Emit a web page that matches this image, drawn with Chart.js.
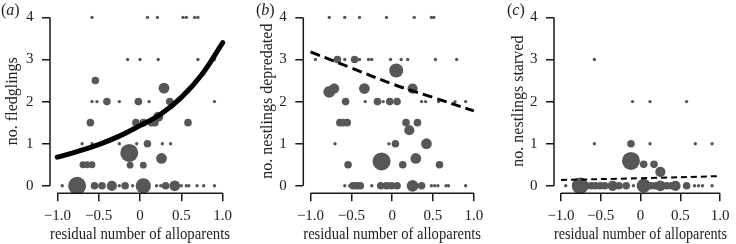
<!DOCTYPE html>
<html>
<head>
<meta charset="utf-8">
<script src="https://cdn.jsdelivr.net/npm/chart.js@4.4.1/dist/chart.umd.min.js"></script>
<style>
  body { margin: 0; background: #fff; }
  #wrap { position: relative; width: 736px; height: 244px; overflow: hidden; }
  .panel { position: absolute; top: 0; height: 244px; }
  .tag { position: absolute; top: 2px; font: 16px "Liberation Serif", "DejaVu Serif", serif; color: #222; line-height: 1; }
</style>
</head>
<body>
<div id="wrap">
  <div class="panel" style="left:0;width:245px"><canvas id="chart-a"></canvas></div>
  <div class="panel" style="left:245px;width:245px"><canvas id="chart-b"></canvas></div>
  <div class="panel" style="left:490px;width:246px"><canvas id="chart-c"></canvas></div>
  <span class="tag" style="left:1px">(<i>a</i>)</span>
  <span class="tag" style="left:256px">(<i>b</i>)</span>
  <span class="tag" style="left:507px">(<i>c</i>)</span>
</div>
<script>
const X_TICKS = [-1, -0.5, 0, 0.5, 1];
const Y_TICKS = [0, 1, 2, 3, 4];
const X_TITLE = "residual number of alloparents";

// (a) fledglings: x = residual alloparents, y = count, n = nests at that spot
const FLEDGE_X = [-0.58, 0.09, 0.21, 0.52, 0.56, 0.66, 0.70,
  -0.15, 0.00, 0.22, 0.70, 0.90,
  -0.54, 0.29,
  -0.58, -0.52, -0.40, -0.25, -0.02, 0.11, 0.36, 0.90,
  -0.60, -0.05, 0.04, 0.14, 0.18, 0.22, 0.58,
  -0.70, -0.58, -0.25, -0.04, 0.09, 0.27, 0.37,
  -0.13, 0.26, -0.12, 0.04,
  -0.69, -0.64, -0.58,
  -0.94, -0.76, -0.55, -0.46, -0.34, -0.25, -0.18, -0.09, 0.04, 0.20, 0.25, 0.31, 0.42, 0.50, 0.56, 0.59, 0.69, 0.77, 0.90];
const FLEDGE_Y = [4, 4, 4, 4, 4, 4, 4,
  3, 3, 3, 3, 3,
  2.5, 2.32,
  2, 2, 2, 2, 2, 2, 2, 2,
  1.5, 1.5, 1.5, 1.5, 1.5, 1.64, 1.5,
  1, 1, 1, 1, 1, 1, 1,
  0.78, 0.65, 0.49, 0.49,
  0.5, 0.5, 0.5,
  0, 0, 0, 0, 0, 0, 0, 0, 0, 0, 0, 0, 0, 0, 0, 0, 0, 0, 0];
const FLEDGE_N = [1, 1, 1, 1, 1, 1, 1,
  1, 1, 1, 1, 1,
  5, 10,
  1, 1, 5, 1, 5, 1, 5, 1,
  5, 5, 5, 5, 5, 9, 5,
  1, 1, 1, 1, 5, 1, 1,
  28, 10, 4, 4,
  4, 4, 4,
  1, 28, 5, 5, 9, 1, 5, 1, 20, 1, 1, 5, 10, 1, 1, 1, 1, 1, 1];
const FLEDGE_FIT_X = [-1, -0.75, -0.5, -0.25, 0, 0.25, 0.5, 0.75, 1];
const FLEDGE_FIT_Y = [0.68, 0.82, 0.98, 1.18, 1.43, 1.70, 2.10, 2.65, 3.40];

// (b) nestlings depredated
const DEPRED_X = [-0.77, -0.58, -0.40, -0.07, 0.27, 0.48, 0.51,
  -0.94, -0.67, -0.58, -0.46, -0.40, -0.29, -0.25, -0.02, 0.11, 0.19, 0.53, 0.79,
  0.05, -0.77, -0.71, -0.34, 0.25,
  -0.57, -0.33, -0.18, -0.11, -0.03, 0.06, 0.36, 0.41, 0.57, 0.77, 0.90,
  -0.64, -0.60, -0.55, 0.17, 0.31, 0.21,
  -0.70, -0.04, 0.04, 0.42,
  -0.54, -0.13, 0.13, 0.29, 0.58,
  -0.58, -0.52, -0.48, -0.43, -0.39, -0.25, -0.14, -0.07, -0.01, 0.06, 0.25, 0.36, 0.48, 0.52, 0.56, 0.66, 0.69, 0.90];
const DEPRED_Y = [4, 4, 4, 4, 4, 4, 4,
  3, 3, 3, 3, 3, 3, 3, 3, 3, 3, 3, 3,
  2.74, 2.23, 2.31, 2.31, 2.31,
  2, 2, 2, 2, 2, 2, 2, 2, 2, 2, 2,
  1.5, 1.5, 1.5, 1.5, 1.5, 1.32,
  1, 1, 1, 1,
  0.5, 0.58, 0.5, 0.65, 0.5,
  0, 0, 0, 0, 0, 0, 0, 0, 0, 0, 0, 0, 0, 0, 0, 0, 0, 0];
const DEPRED_N = [1, 1, 1, 1, 1, 1, 1,
  1, 5, 1, 5, 1, 1, 1, 1, 1, 1, 1, 1,
  17, 12, 9, 10, 9,
  5, 1, 5, 1, 5, 5, 1, 1, 1, 1, 1,
  5, 5, 5, 5, 5, 9,
  1, 1, 5, 10,
  5, 28, 5, 10, 5,
  1, 1, 5, 5, 5, 1, 5, 5, 5, 5, 12, 5, 1, 1, 1, 1, 1, 1];
const DEPRED_FIT_X = [-1, -0.5, 0, 0.5, 1];
const DEPRED_FIT_Y = [3.18, 2.80, 2.42, 2.10, 1.78];

// (c) nestlings starved
const STARVE_X = [-0.58,
  -0.10, 0.12, 0.58,
  -0.58, -0.12, 0.12, 0.69, 0.90,
  -0.12, 0.04, 0.17, 0.25,
  -0.94, -0.76, -0.68, -0.62, -0.57, -0.51, -0.45, -0.35, -0.27, -0.18, -0.09, 0.04, 0.13, 0.19, 0.25, 0.33, 0.39, 0.44, 0.58, 0.68, 0.73, 0.78, 0.90];
const STARVE_Y = [3,
  2, 2, 2,
  1, 1, 1, 1, 1,
  0.59, 0.51, 0.51, 0.33,
  0, 0, 0, 0, 0, 0, 0, 0, 0, 0, 0, 0, 0, 0, 0, 0, 0, 0, 0, 0, 0, 0, 0];
const STARVE_N = [1,
  1, 1, 1,
  1, 5, 1, 1, 1,
  28, 5, 5, 9,
  1, 24, 5, 5, 5, 5, 5, 9, 5, 5, 1, 17, 5, 5, 10, 5, 5, 9, 5, 1, 1, 1, 1];
const STARVE_FIT_X = [-1, 0, 1];
const STARVE_FIT_Y = [0.14, 0.18, 0.23];

const SIZE_UNIT = 1.7;
const POINT_COLOR = "#575757";
const AXIS_COLOR = "#1a1a1a";
const TEXT_COLOR = "#222";

Chart.defaults.font.family = "'Liberation Serif', 'DejaVu Serif', serif";
Chart.defaults.font.size = 16;

function tickText(v) {
  if (v === 0) return "0";
  return v.toFixed(1).replace("-", "\u2212");
}

// R-style axis lines that only run between the first and last tick
const rangeAxes = {
  id: "rangeAxes",
  afterDatasetsDraw(chart) {
    const { ctx, chartArea, scales: { x, y } } = chart;
    ctx.save();
    ctx.strokeStyle = AXIS_COLOR;
    ctx.lineWidth = 1.5;
    ctx.beginPath();
    ctx.moveTo(x.getPixelForValue(X_TICKS[0]), chartArea.bottom);
    ctx.lineTo(x.getPixelForValue(X_TICKS[X_TICKS.length - 1]), chartArea.bottom);
    ctx.moveTo(chartArea.left, y.getPixelForValue(Y_TICKS[0]));
    ctx.lineTo(chartArea.left, y.getPixelForValue(Y_TICKS[Y_TICKS.length - 1]));
    ctx.stroke();
    ctx.restore();
  }
};

function buildPanel(canvasId, p) {
  const points = p.xs.map((x, i) => ({ x, y: p.ys[i], r: SIZE_UNIT * Math.sqrt(p.ns[i]) }));
  const fit = p.fitX.map((x, i) => ({ x, y: p.fitY[i] }));

  new Chart(document.getElementById(canvasId), {
    type: "bubble",
    data: {
      datasets: [
        {
          type: "line",
          data: fit,
          borderColor: "#000",
          borderWidth: p.lineWidth,
          borderDash: p.dash,
          borderCapStyle: p.dash.length ? "butt" : "round",
          pointRadius: 0,
          tension: 0.4,
          fill: false,
          order: 0
        },
        {
          data: points,
          backgroundColor: POINT_COLOR,
          borderWidth: 0,
          hoverRadius: 0,
          order: 1
        }
      ]
    },
    options: {
      responsive: true,
      maintainAspectRatio: false,
      animation: false,
      events: [],
      layout: { padding: { left: p.padL, right: p.padR, top: 6.1, bottom: 0 } },
      plugins: { legend: { display: false }, tooltip: { enabled: false } },
      scales: {
        x: {
          type: "linear",
          min: -1.088,
          max: 1.088,
          afterBuildTicks: s => { s.ticks = X_TICKS.map(value => ({ value })); },
          afterFit: s => { s.height = 50.7; s.paddingLeft = 0; s.paddingRight = 0; },
          grid: { display: true, drawOnChartArea: false, drawTicks: true, tickLength: 8, color: AXIS_COLOR, lineWidth: 1.5 },
          border: { display: false },
          ticks: { callback: tickText, padding: 6, color: TEXT_COLOR, font: { size: 15 }, maxRotation: 0, autoSkip: false },
          title: { display: true, text: X_TITLE, color: TEXT_COLOR, padding: { top: 0, bottom: 0 } }
        },
        y: {
          type: "linear",
          min: -0.178,
          max: 4.2,
          afterBuildTicks: s => { s.ticks = Y_TICKS.map(value => ({ value })); },
          afterFit: s => { s.width = p.yW; s.paddingTop = 0; s.paddingBottom = 0; },
          grid: { display: true, drawOnChartArea: false, drawTicks: true, tickLength: 8, color: AXIS_COLOR, lineWidth: 1.5 },
          border: { display: false },
          ticks: { callback: v => String(v), padding: 8.5, color: TEXT_COLOR, font: { size: 15 } },
          title: { display: true, text: p.yTitle, color: TEXT_COLOR, padding: { top: 3, bottom: 3 } }
        }
      }
    },
    plugins: [rangeAxes]
  });
}

buildPanel("chart-a", {
  xs: FLEDGE_X, ys: FLEDGE_Y, ns: FLEDGE_N,
  fitX: FLEDGE_FIT_X, fitY: FLEDGE_FIT_Y,
  lineWidth: 5, dash: [],
  yTitle: "no. fledglings",
  padL: 0, yW: 50, padR: 15
});

buildPanel("chart-b", {
  xs: DEPRED_X, ys: DEPRED_Y, ns: DEPRED_N,
  fitX: DEPRED_FIT_X, fitY: DEPRED_FIT_Y,
  lineWidth: 3, dash: [10, 5],
  yTitle: "no. nestlings depredated",
  padL: 10, yW: 48.3, padR: 6.7
});

buildPanel("chart-c", {
  xs: STARVE_X, ys: STARVE_Y, ns: STARVE_N,
  fitX: STARVE_FIT_X, fitY: STARVE_FIT_Y,
  lineWidth: 2, dash: [6, 4],
  yTitle: "no. nestlings starved",
  padL: 16, yW: 48, padR: 2
});
</script>
</body>
</html>
